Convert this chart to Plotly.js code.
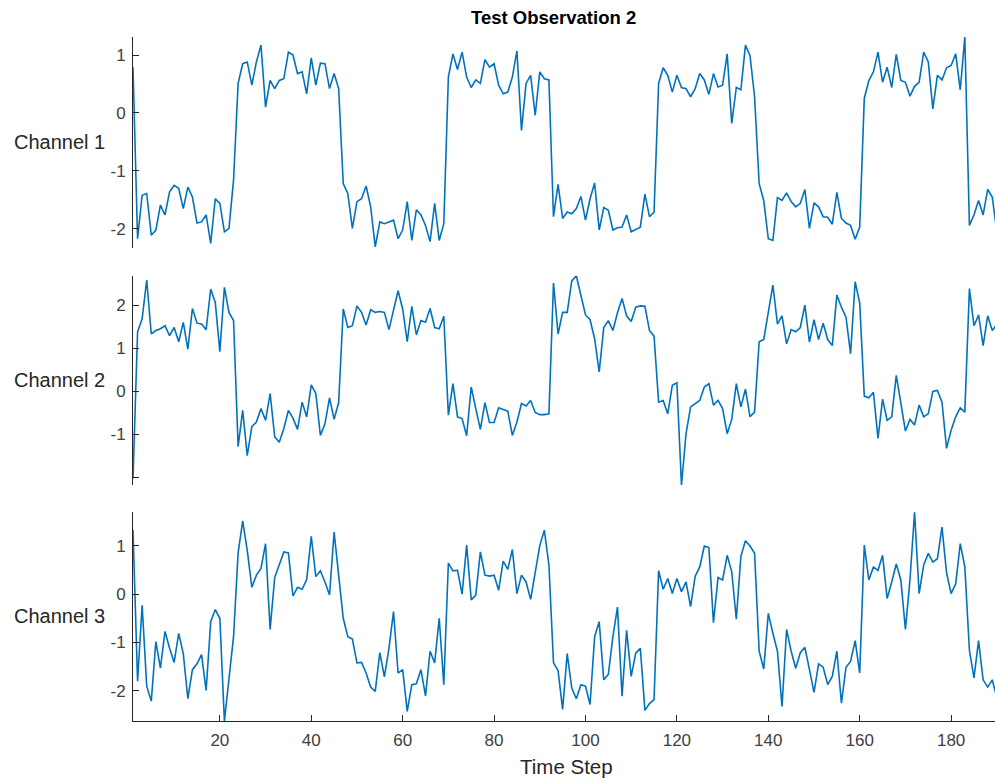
<!DOCTYPE html>
<html><head><meta charset="utf-8">
<script src="https://cdn.plot.ly/plotly-3.0.1.min.js"></script>
<style>html,body{margin:0;padding:0;background:#fff;overflow:hidden}#chart{width:995px;height:778px}</style>
</head><body><div id="chart"></div>
<script>
const chartTitle = 'Test Observation 2';
const xAxisLabel = 'Time Step';
const channelNames = ['Channel 1', 'Channel 2', 'Channel 3'];

const channel1 = [
0.79,-2.17,-1.42,-1.39,-2.11,-2.02,-1.59,-1.76,-1.36,-1.25,
-1.30,-1.65,-1.28,-1.45,-1.90,-1.88,-1.76,-2.25,-1.48,-1.56,
-2.05,-1.99,-1.16,0.51,0.85,0.88,0.48,0.88,1.17,0.10,
0.56,0.42,0.56,0.59,1.05,1.00,0.68,0.71,0.33,0.95,
0.48,0.86,0.85,0.42,0.68,0.42,-1.22,-1.39,-1.99,-1.53,
-1.48,-1.26,-1.62,-2.31,-1.88,-1.91,-1.88,-1.85,-2.17,-2.02,
-1.53,-2.20,-1.67,-1.76,-1.94,-2.22,-1.56,-2.20,-1.91,0.62,
1.02,0.75,1.05,0.62,0.44,0.57,0.51,0.92,0.79,0.85,
0.48,0.33,0.36,0.62,1.07,-0.30,0.51,0.65,-0.04,0.71,
0.59,0.57,-1.79,-1.23,-1.82,-1.71,-1.74,-1.65,-1.44,-1.85,
-1.48,-1.21,-2.02,-1.63,-1.68,-2.02,-1.98,-1.97,-1.76,-2.05,
-2.01,-1.97,-1.40,-1.79,-1.71,0.51,0.78,0.65,0.36,0.65,
0.44,0.42,0.28,0.42,0.68,0.57,0.32,0.68,0.45,0.48,
1.02,-0.18,0.44,0.40,1.17,0.99,0.28,-1.22,-1.51,-2.17,
-2.20,-1.46,-1.51,-1.38,-1.53,-1.62,-1.56,-1.32,-1.99,-1.55,
-1.62,-1.79,-1.80,-1.92,-1.37,-1.82,-1.90,-1.94,-2.18,-1.97,
0.25,0.56,0.71,1.05,0.53,0.79,0.44,1.01,0.56,0.53,
0.29,0.46,0.53,1.05,0.88,0.07,0.65,0.57,0.78,0.82,
1.02,0.40,1.31,-1.94,-1.76,-1.51,-1.76,-1.32,-1.45,-2.05
];

const channel2 = [
-2.02,1.38,1.68,2.58,1.33,1.41,1.45,1.52,1.29,1.48,
1.15,1.60,0.98,1.92,1.58,1.56,1.43,2.37,2.06,0.92,
2.41,1.83,1.64,-1.28,-0.44,-1.49,-0.82,-0.71,-0.40,-0.67,
-0.05,-1.05,-1.18,-0.86,-0.44,-0.62,-0.88,-0.25,-0.59,0.15,
-0.05,-1.02,-0.75,-0.15,-0.65,-0.26,1.91,1.48,1.52,1.98,
1.83,1.54,1.89,1.83,1.85,1.83,1.43,1.91,2.33,1.91,
1.15,1.97,1.31,1.64,1.60,1.92,1.48,1.45,1.74,-0.55,
0.18,-0.59,-0.63,-1.03,0.10,-0.40,-0.88,-0.26,-0.72,-0.72,
-0.38,-0.42,-0.46,-1.02,-0.71,-0.28,-0.34,-0.21,-0.49,-0.54,
-0.54,-0.52,2.51,1.33,1.83,1.83,2.56,2.68,2.22,1.77,
1.66,1.22,0.45,1.48,1.64,1.41,1.82,2.15,1.75,1.62,
1.95,1.98,1.97,1.41,1.28,-0.25,-0.21,-0.52,0.14,0.20,
-2.17,-0.98,-0.36,-0.28,-0.21,0.10,0.18,-0.32,-0.21,-0.40,
-0.98,-0.65,0.18,-0.36,0.05,-0.59,-0.48,1.15,1.20,1.83,
2.46,1.56,1.75,1.10,1.43,1.38,1.48,2.00,1.14,1.66,
1.20,1.58,1.20,1.06,2.23,1.95,1.72,0.87,2.54,2.05,
-0.11,-0.15,-0.02,-1.09,-0.18,-0.67,-0.59,0.37,-0.28,-0.92,
-0.65,-0.78,-0.32,-0.59,-0.52,0.00,0.02,-0.25,-1.32,-0.90,
-0.59,-0.38,-0.48,2.38,1.52,1.77,1.06,1.75,1.41,1.55
];

const channel3 = [
1.32,-1.80,-0.23,-1.90,-2.21,-0.98,-1.53,-0.77,-1.12,-1.41,
-0.81,-1.23,-2.16,-1.56,-1.44,-1.25,-1.99,-0.57,-0.32,-0.50,
-2.62,-1.73,-0.88,0.85,1.51,0.90,0.14,0.39,0.53,1.04,
-0.73,0.34,0.60,0.87,0.85,-0.04,0.14,0.10,0.30,1.19,
0.36,0.48,0.25,-0.02,1.28,0.42,-0.50,-0.88,-0.93,-1.42,
-1.41,-1.63,-1.92,-2.01,-1.21,-1.71,-1.12,-0.36,-1.63,-1.56,
-2.42,-1.87,-1.85,-1.56,-2.10,-1.18,-1.42,-0.50,-1.87,0.64,
0.48,0.49,0.00,1.01,-0.12,-0.02,0.87,0.39,0.37,0.39,
0.08,0.68,0.51,0.92,0.01,0.39,0.25,-0.11,0.46,1.00,
1.32,0.60,-1.42,-1.58,-2.38,-1.23,-1.94,-2.16,-1.87,-1.90,
-2.28,-0.88,-0.57,-1.77,-1.66,-0.88,-0.27,-2.11,-0.75,-1.70,
-1.22,-1.12,-2.40,-2.26,-2.18,0.48,0.10,0.32,0.01,0.32,
0.05,0.25,-0.26,0.37,0.56,0.99,0.96,-0.59,0.34,0.29,
0.80,0.46,-0.52,0.78,1.10,0.99,0.84,-1.18,-1.55,-0.40,
-0.81,-1.18,-2.32,-0.73,-1.18,-1.53,-1.21,-1.10,-1.56,-2.03,
-1.44,-1.51,-1.87,-1.70,-1.18,-2.25,-1.51,-1.39,-0.96,-1.63,
1.01,0.29,0.56,0.49,0.80,-0.09,0.25,0.62,0.29,-0.73,
0.30,1.69,0.01,0.60,0.84,0.66,0.73,1.38,0.44,0.01,
0.21,1.04,0.56,-1.16,-1.73,-0.96,-1.77,-1.92,-1.77,-2.14
];

const xTickVals = [20, 40, 60, 80, 100, 120, 140, 160, 180];
const y1TickVals = [-2, -1, 0, 1];
const y1TickText = ['-2', '-1', '0', '1'];
const y2TickVals = [-2, -1, 0, 1, 2];
const y2TickText = ['', '-1', '0', '1', '2'];
const y3TickVals = [-2, -1, 0, 1];
const y3TickText = ['-2', '-1', '0', '1'];

const timeStep = channel1.map((_, i) => i + 1);
const lineColor = '#0072BD';
const fontFam = 'Arial, "Liberation Sans", Helvetica, sans-serif';
const inkColor = '#262626';
const tickInk = '#404040';

const traces = [channel1, channel2, channel3].map((vals, k) => ({
  type: 'scatter', mode: 'lines', x: timeStep, y: vals,
  xaxis: 'x', yaxis: k === 0 ? 'y' : 'y' + (k + 1),
  line: {color: lineColor, width: 1.6}, hoverinfo: 'skip', showlegend: false
}));

function yAx(domain, range, tv, tt) {
  return {
    domain: domain, range: range, anchor: 'x',
    tickmode: 'array', tickvals: tv, ticktext: tt,
    showgrid: false, zeroline: false, showline: true, linecolor: inkColor, linewidth: 1,
    ticks: 'inside', ticklen: 6, tickcolor: inkColor, tickwidth: 1,
    tickfont: {family: fontFam, size: 17, color: tickInk},
    ticklabelstandoff: 3
  };
}

const H = 778;
const layout = {
  width: 995, height: 778,
  margin: {l: 133, r: 0, t: 0, b: 0},
  paper_bgcolor: '#ffffff', plot_bgcolor: '#ffffff',
  showlegend: false,
  xaxis: {
    domain: [0, 1], range: [1, 189.6], anchor: 'y3',
    tickmode: 'array', tickvals: xTickVals, ticktext: xTickVals.map(String),
    showgrid: false, zeroline: false, showline: true, linecolor: inkColor, linewidth: 1,
    ticks: 'inside', ticklen: 6, tickcolor: inkColor, tickwidth: 1,
    tickfont: {family: fontFam, size: 17, color: tickInk},
    ticklabelstandoff: 4
  },
  yaxis: yAx([1 - 248 / H, 1 - 36.7 / H], [-2.33, 1.316], y1TickVals, y1TickText),
  yaxis2: yAx([1 - 485 / H, 1 - 275.7 / H], [-2.17, 2.68], y2TickVals, y2TickText),
  yaxis3: yAx([1 - 721 / H, 1 - 511.7 / H], [-2.62, 1.70], y3TickVals, y3TickText),
  annotations: [
    {text: chartTitle, xref: 'paper', yref: 'paper', x: (553 - 133) / 862, y: 1 - 17 / H,
     xanchor: 'center', yanchor: 'middle', showarrow: false,
     font: {family: fontFam, size: 18.5, color: '#000000', weight: 700}},
    {text: xAxisLabel, xref: 'paper', yref: 'paper', x: (566.5 - 133) / 862, y: 1 - 766 / H,
     xanchor: 'center', yanchor: 'middle', showarrow: false,
     font: {family: fontFam, size: 20.5, color: inkColor}}
  ].concat(channelNames.map((name, k) => ({
    text: name, xref: 'paper', yref: (k === 0 ? 'y' : 'y' + (k + 1)) + ' domain',
    x: (107 - 133) / 862, y: 0.5, xanchor: 'right', yanchor: 'middle', showarrow: false,
    font: {family: fontFam, size: 20, color: inkColor}
  })))
};

Plotly.newPlot('chart', traces, layout, {staticPlot: true, displayModeBar: false});
</script>
</body></html>
